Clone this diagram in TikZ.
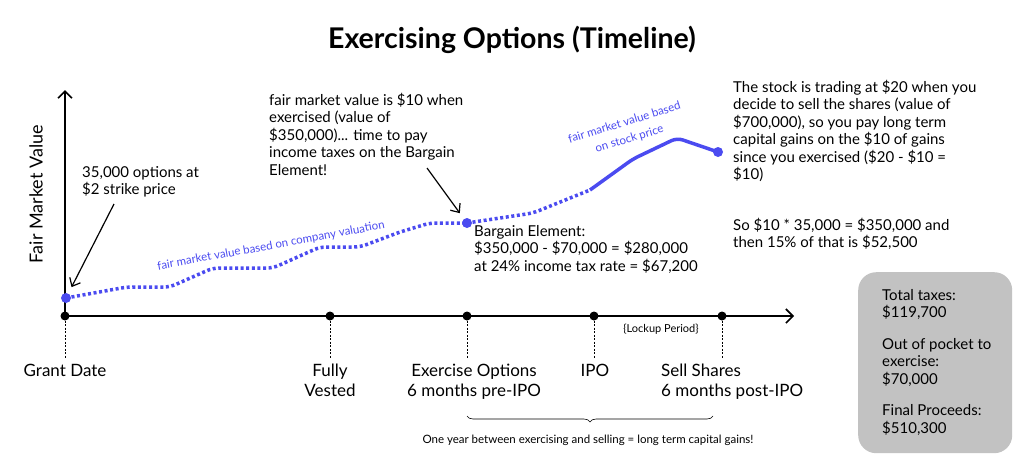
\documentclass[tikz,border=0pt]{standalone}
\usepackage{fontspec}
\setmainfont{Lato}
\usetikzlibrary{arrows.meta,decorations.pathreplacing}
\definecolor{fmvblue}{HTML}{4B4BF0}
\definecolor{boxgrey}{HTML}{C2C2C2}
\tikzset{
  note/.style={font=\fontsize{15}{17.5}\selectfont, align=left, inner sep=0pt, anchor=north west},
  stamp/.style={font=\fontsize{17}{19.5}\selectfont, align=center, inner sep=0pt, anchor=north},
  tick/.style={circle, fill=black, inner sep=0pt, minimum size=9pt},
  bluedot/.style={circle, fill=fmvblue, inner sep=0pt, minimum size=10pt},
  guide/.style={dash pattern=on 2pt off 1.5pt, line width=0.6pt},
  fmvtext/.style={text=fmvblue, font=\fontsize{11.5}{17}\selectfont, inner sep=0pt, align=center},
  fmvline/.style={fmvblue, line width=3.5pt, rounded corners=6pt},
  pointer/.style={-{Straight Barb[length=7pt,width=12pt]}, line width=1.2pt},
  axis/.style={line width=1.6pt, -{Straight Barb[length=7pt,width=14pt]}},
}
\begin{document}
\begin{tikzpicture}[x=1pt,y=-1pt]
\useasboundingbox (0,0) rectangle (1024,461);
\node[font=\fontsize{28.5}{32}\selectfont\bfseries] (title) at (512,40) {Exercising Options (Timeline)};

\coordinate (origin) at (65,316);
\coordinate (ytop) at (65,90);
\coordinate (xright) at (794,316);
\draw[axis] (origin) -- (ytop);
\draw[axis] (origin) -- (xright);
\node[rotate=90, font=\fontsize{18}{20}\selectfont, inner sep=0pt] (ylabel) at (36,194) {Fair Market Value};

\node[tick] (grant) at (65,316) {};
\node[tick] (vested) at (330,316) {};
\node[tick] (exercise) at (467,316) {};
\node[tick] (ipo) at (594,316) {};
\node[tick] (sell) at (722,316) {};

\node[stamp] (grantlbl) at (65,364) {Grant Date};
\node[stamp] (vestedlbl) at (330,364) {Fully\\Vested};
\node[stamp] (exerciselbl) at (474,364) {Exercise Options\\6 months pre-IPO};
\node[stamp] (ipolbl) at (595,364) {IPO};
\node[stamp, anchor=north west, align=left] (selllbl) at (661,364) {Sell Shares\\6 months post-IPO};
\foreach \t in {grant,vested,exercise,ipo,sell}
  \draw[guide] (\t) -- (\t |- 0,359);
\node[font=\fontsize{11}{13}\selectfont, inner sep=0pt] (lockup) at (661,329) {\{Lockup Period\}};

\draw[decorate, decoration={brace, mirror, amplitude=6pt}, line width=0.6pt] (467,416) -- (713,416);
\node[font=\fontsize{11.5}{13}\selectfont, inner sep=0pt] (holding) at (588,440) {One year between exercising and selling = long term capital gains!};

\node[bluedot] (startdot) at (66,298) {};
\node[bluedot] (exdot) at (467,223) {};
\node[bluedot] (selldot) at (718,152) {};
\coordinate (stockstart) at (590,190);
\draw[fmvline, dash pattern=on 3pt off 2.6pt] (startdot.center) -- (127,287) -- (170,287) -- (213,268) -- (273,268) -- (320,247) -- (360,247) -- (400,232) -- (430,223) -- (exdot.center);
\draw[fmvline, dash pattern=on 3pt off 2.6pt] (exdot.center) -- (533,213) -- (stockstart);
\draw[fmvline] (stockstart) -- (633,159) -- (677,138) -- (selldot.center);
\node[fmvtext, rotate=10.4] (companylbl) at (271,246) {fair market value based on company valuation};
\node[fmvtext, rotate=17] (stocklbl) at (627,131) {fair market value based\\on stock price};

\node[note] (grantnote) at (82,166) {35,000 options at\\\$2 strike price};
\coordinate (granttail) at (114,204);
\draw[pointer, shorten >=7pt] (granttail) -- (startdot);

\node[note] (exnote) at (269,93) {fair market value is \$10 when\\exercised (value of\\\$350,000)... time to pay\\income taxes on the Bargain\\Element!};
\coordinate (extail) at (427,168);
\draw[pointer, shorten >=7pt] (extail) -- (exdot);

\node[note] (bargain) at (474,225) {Bargain Element:\\\$350,000 - \$70,000 = \$280,000\\at 24\% income tax rate = \$67,200};

\node[note] (sellnote) at (733,80) {The stock is trading at \$20 when you\\decide to sell the shares (value of\\\$700,000), so you pay long term\\capital gains on the \$10 of gains\\since you exercised (\$20 - \$10 =\\\$10)};
\node[note] (gainsnote) at (733,218) {So \$10 * 35,000 = \$350,000 and\\then 15\% of that is \$52,500};

\node[fill=boxgrey, rounded corners=18pt, minimum width=154pt, minimum height=181pt, anchor=north west, inner sep=0pt] (totals) at (858,272) {};
\node[note] (totalstext) at ([xshift=24pt,yshift=-17pt]totals.north west) {Total taxes:\\\$119,700\\[14pt]Out of pocket to\\exercise:\\\$70,000\\[14pt]Final Proceeds:\\\$510,300};
\end{tikzpicture}
\end{document}
